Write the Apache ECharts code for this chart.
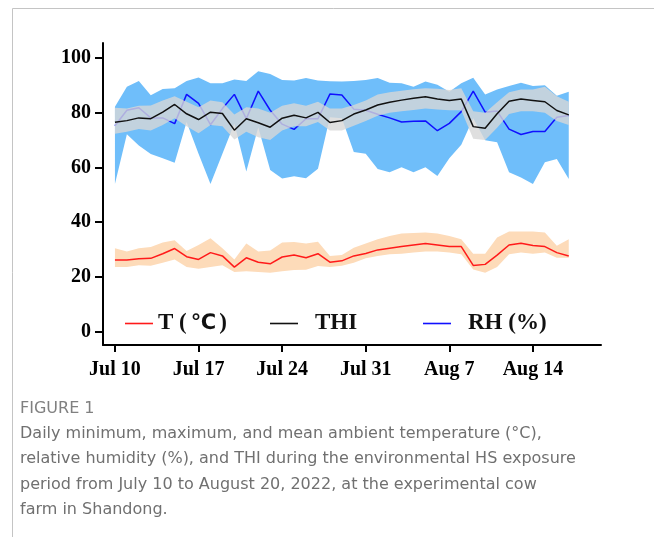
<!DOCTYPE html>
<html>
<head>
<meta charset="utf-8">
<title>Daily T, RH and THI</title>
<script src="https://cdn.jsdelivr.net/npm/echarts@6/dist/echarts.min.js"></script>
<style>
  html, body { margin: 0; padding: 0; background: #fff; }
  #chart { width: 654px; height: 537px; }
</style>
</head>
<body>
<div id="chart"></div>
<script>
// Day offsets from Jul 10 (0 = Jul 10, 38 = Aug 17)
const days = Array.from({ length: 39 }, (_, i) => i);

// Ambient temperature, °C
const tMean = [26.1, 26.1, 26.6, 26.7, 28.4, 30.3, 27.3, 26.3, 28.8, 27.6,
               23.5, 26.9, 25.3, 24.7, 27.2, 27.9, 26.9, 28.4, 25.3, 25.8,
               27.6, 28.5, 29.8, 30.4, 31.0, 31.6, 32.1, 31.6, 31.0, 31.0,
               24.1, 24.5, 27.9, 31.6, 32.2, 31.4, 31.0, 28.8, 27.6];
const tMax  = [30.4, 29.2, 30.4, 30.9, 32.5, 33.3, 29.4, 31.6, 34.1, 30.4,
               26.3, 32.1, 29.2, 29.6, 32.5, 32.7, 32.1, 32.8, 27.6, 27.9,
               30.6, 32.1, 33.7, 34.9, 35.8, 36.0, 36.2, 35.8, 34.9, 33.7,
               28.4, 28.4, 34.3, 36.5, 36.5, 36.5, 36.2, 31.3, 33.7];
const tMin  = [23.5, 23.5, 24.2, 24.0, 25.1, 26.3, 23.5, 22.9, 23.5, 24.2,
               21.7, 22.0, 21.7, 21.4, 22.0, 22.4, 22.5, 23.9, 23.5, 24.0,
               25.1, 26.7, 27.6, 28.2, 28.4, 28.8, 29.2, 29.2, 28.8, 28.2,
               22.6, 21.4, 23.5, 28.2, 28.8, 28.4, 28.8, 26.9, 26.9];

// Temperature-humidity index
const thi    = [76.5, 77.1, 78.1, 77.8, 80.2, 83.0, 79.6, 77.5, 80.2, 79.7,
                73.6, 77.8, 76.3, 74.7, 78.0, 79.1, 78.1, 80.1, 76.4, 77.1,
                79.5, 81.0, 82.8, 83.8, 84.6, 85.3, 85.8, 85.0, 84.5, 85.0,
                74.9, 74.3, 79.6, 84.2, 85.0, 84.5, 84.0, 80.8, 79.2];
const thiMax = [81.8, 81.5, 82.5, 82.6, 84.5, 86.0, 84.0, 82.0, 84.5, 83.8,
                79.3, 82.0, 81.5, 80.0, 82.5, 83.5, 82.5, 84.0, 81.5, 81.5,
                82.8, 84.5, 86.7, 87.5, 88.0, 88.6, 88.9, 88.8, 88.3, 88.9,
                80.5, 80.0, 83.8, 87.5, 88.5, 88.5, 89.5, 86.0, 84.0];
const thiMin = [72.3, 73.0, 74.0, 73.5, 75.5, 78.0, 75.0, 72.5, 75.5, 75.0,
                70.2, 73.0, 71.0, 70.0, 73.5, 75.0, 75.0, 76.6, 73.5, 73.5,
                75.2, 77.0, 78.9, 80.0, 80.5, 81.0, 81.5, 81.2, 80.9, 80.9,
                70.5, 70.0, 74.5, 79.5, 80.5, 80.5, 80.0, 77.0, 75.5];

// Relative humidity, %
const rh    = [75.2, 80.9, 81.8, 78.1, 78.1, 76.0, 86.7, 83.4, 75.6, 81.5,
               86.7, 77.8, 87.9, 80.9, 75.8, 73.9, 77.8, 77.8, 86.8, 86.5,
               81.3, 80.9, 79.4, 78.1, 76.6, 76.9, 77.0, 73.4, 76.1, 80.4,
               87.9, 80.2, 80.6, 74.0, 72.0, 73.1, 73.1, 78.3, 79.0];
const rhMax = [82.2, 89.5, 91.6, 86.4, 88.7, 88.9, 91.6, 92.9, 90.8, 90.8,
               92.1, 91.6, 95.2, 94.2, 92.0, 91.8, 92.7, 91.8, 91.5, 91.4,
               91.6, 92.0, 92.7, 91.0, 90.8, 89.5, 91.4, 90.2, 87.7, 90.8,
               92.8, 86.7, 88.5, 89.8, 91.0, 89.8, 90.0, 86.2, 87.7];
const rhMin = [53.9, 72.1, 68.0, 64.9, 63.3, 61.7, 76.6, 65.0, 53.9, 65.0,
               76.0, 58.5, 74.7, 59.0, 55.9, 56.7, 56.0, 59.5, 78.3, 78.0,
               65.6, 65.0, 59.4, 58.2, 60.0, 58.2, 60.0, 56.8, 63.3, 68.3,
               78.0, 69.9, 69.2, 58.2, 56.3, 53.9, 61.9, 63.1, 55.7];

// Axis ticks
const xTickDays   = [0, 7, 14, 21, 28, 35];
const xTickLabels = ['Jul 10', 'Jul 17', 'Jul 24', 'Jul 31', 'Aug 7', 'Aug 14'];
const yTicks      = [0, 20, 40, 60, 80, 100];

const captionTitle = 'FIGURE 1';
const captionLines = [
  'Daily minimum, maximum, and mean ambient temperature (°C),',
  'relative humidity (%), and THI during the environmental HS exposure',
  'period from July 10 to August 20, 2022, at the experimental cow',
  'farm in Shandong.'
];

const serif = '"Liberation Serif", "Times New Roman", serif';
const sans = '"DejaVu Sans", "Open Sans", sans-serif';

const pairs = (vals) => days.map((d, i) => [d, vals[i]]);

// Filled min–max envelope as a single polygon through the axis scales
function band(name, lo, hi, fill, z) {
  return {
    type: 'custom',
    name: name,
    z: z,
    silent: true,
    data: [[days[0], lo[0]]],
    renderItem: function (params, api) {
      const pts = [];
      for (let i = 0; i < days.length; i++) pts.push(api.coord([days[i], hi[i]]));
      for (let i = days.length - 1; i >= 0; i--) pts.push(api.coord([days[i], lo[i]]));
      return { type: 'polygon', shape: { points: pts }, style: { fill: fill } };
    }
  };
}

function line(name, vals, color, z) {
  return {
    type: 'line',
    name: name,
    z: z,
    data: pairs(vals),
    showSymbol: false,
    symbol: 'none',
    silent: true,
    lineStyle: { color: color, width: 1.5 },
    itemStyle: { color: color }
  };
}

function legendAt(name, left, gap) {
  return {
    data: [name],
    left: left,
    top: 312,
    padding: 0,
    icon: 'rect',
    itemWidth: 28,
    itemHeight: 1.6,
    selectedMode: false,
    formatter: function (n) {
      return n.replace('℃', '{deg|℃}');
    },
    textStyle: {
      fontFamily: serif,
      fontWeight: 'bold',
      fontSize: 23,
      color: '#111',
      padding: [0, 0, 0, gap],
      rich: {
        deg: { fontFamily: '"DejaVu Sans", sans-serif', fontWeight: 'bold', fontSize: 21,
               color: '#111', padding: [0, 3, 0, 4] }
      }
    }
  };
}

const chart = echarts.init(document.getElementById('chart'), null, { renderer: 'canvas' });

chart.setOption({
  animation: false,
  backgroundColor: '#fff',
  grid: { left: 103, right: 53, top: 43, bottom: 192, containLabel: false },
  xAxis: {
    type: 'value',
    min: -1,
    max: 40.7,
    axisLine: { onZero: false, lineStyle: { color: '#000', width: 2 } },
    axisTick: { customValues: xTickDays, length: 7, lineStyle: { color: '#000', width: 2 } },
    axisLabel: {
      customValues: xTickDays,
      margin: 15,
      color: '#000',
      fontFamily: serif,
      fontWeight: 'bold',
      fontSize: 20,
      formatter: function (v) {
        const k = xTickDays.indexOf(Math.round(v));
        return k >= 0 ? xTickLabels[k] : '';
      }
    },
    splitLine: { show: false }
  },
  yAxis: {
    type: 'value',
    min: -5,
    max: 105.5,
    axisLine: { show: true, onZero: false, lineStyle: { color: '#000', width: 2 } },
    axisTick: { show: true, customValues: yTicks, length: 8, lineStyle: { color: '#000', width: 2 } },
    axisLabel: {
      customValues: yTicks,
      margin: 12,
      color: '#000',
      fontFamily: serif,
      fontWeight: 'bold',
      fontSize: 20
    },
    splitLine: { show: false }
  },
  legend: [
    legendAt('T (℃)', 125, 0),
    legendAt('THI', 270, 12),
    legendAt('RH (%)', 423, 12)
  ],
  series: [
    band('RH range', rhMin, rhMax, '#6fbefa', 1),
    line('RH (%)', rh, '#1010ff', 2),
    band('THI range', thiMin, thiMax, 'rgba(215,215,215,0.8)', 3),
    line('THI', thi, '#111111', 4),
    band('T range', tMin, tMax, '#fddbb9', 5),
    line('T (℃)', tMean, '#ff1a1a', 6)
  ],
  graphic: [
    { type: 'line', silent: true, shape: { x1: 12.5, y1: 8.5, x2: 654, y2: 8.5 },
      style: { stroke: '#c4c4c4', lineWidth: 1 } },
    { type: 'line', silent: true, shape: { x1: 12.5, y1: 8.5, x2: 12.5, y2: 537 },
      style: { stroke: '#c4c4c4', lineWidth: 1 } },
    { type: 'text', silent: true, x: 20, y: 409,
      style: { text: captionTitle, fill: '#808080', font: '16px ' + sans, verticalAlign: 'middle' } },
    ...captionLines.map((t, i) => ({
      type: 'text', silent: true, x: 20, y: 434 + i * 25.3,
      style: { text: t, fill: '#707070', font: '16px ' + sans, verticalAlign: 'middle' }
    }))
  ]
});
</script>
</body>
</html>
